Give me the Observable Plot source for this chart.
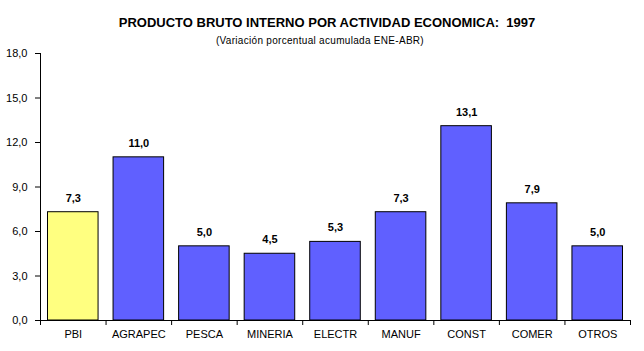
<!DOCTYPE html>
<html>
<head>
<meta charset="utf-8">
<script src="https://cdn.jsdelivr.net/npm/d3@7"></script>
<script src="https://cdn.jsdelivr.net/npm/@observablehq/plot@0.6"></script>
<style>
  html, body { margin: 0; padding: 0; background: #fff; }
  #wrap { position: relative; width: 644px; height: 351px; font-family: "Liberation Sans", Arial, sans-serif; }
  #title { position: absolute; left: 0; width: 654px; top: 15px; text-align: center; font-weight: bold; font-size: 13px; color: #000; }
  #subtitle { position: absolute; left: 0; width: 640px; top: 35px; text-align: center; font-size: 10px; letter-spacing: 0.3px; color: #000; }
  #chart { position: absolute; left: 0; top: 48px; }
</style>
</head>
<body>
<div id="wrap">
  <div id="title">PRODUCTO BRUTO INTERNO POR ACTIVIDAD ECONOMICA:&nbsp; 1997</div>
  <div id="subtitle">(Variación porcentual acumulada ENE-ABR)</div>
  <div id="chart"></div>
</div>
<script>
const categories = ["PBI", "AGRAPEC", "PESCA", "MINERIA", "ELECTR", "MANUF", "CONST", "COMER", "OTROS"];
const values = [7.3, 11.0, 5.0, 4.5, 5.3, 7.3, 13.1, 7.9, 5.0];
const yTicks = [0, 3, 6, 9, 12, 15, 18];

const data = categories.map((c, i) => ({cat: c, i, value: values[i]}));
const fmt = d => d.toFixed(1).replace(".", ",");

const chart = Plot.plot({
  width: 644,
  height: 303,
  marginLeft: 40,
  marginRight: 14,
  marginTop: 5,
  marginBottom: 31,
  style: {fontFamily: "'Liberation Sans', Arial, sans-serif", fontSize: "11px", color: "#000", background: "#fff"},
  x: {type: "linear", domain: [0, categories.length]},
  y: {domain: [0, 18]},
  marks: [
    Plot.rect(data, {
      x1: d => d.i, x2: d => d.i + 1, y1: 0, y2: "value",
      insetLeft: 7.5, insetRight: 7.5,
      fill: d => d.cat === "PBI" ? "#FFFF80" : "#6060FF",
      stroke: "#000", strokeWidth: 1
    }),
    Plot.text(data, {
      x: d => d.i + 0.5, y: "value", text: d => fmt(d.value),
      dy: -14, fontWeight: "bold", fontSize: 11, fill: "#000"
    }),
    Plot.ruleX([0], {stroke: "#000"}),
    Plot.ruleY([0], {stroke: "#000"}),
    Plot.axisY({ticks: yTicks, tickFormat: fmt, tickSize: 5, tickPadding: 8, label: null, fontSize: 11}),
    Plot.axisX({ticks: d3.range(categories.length + 1), tickFormat: () => "", tickSize: 5, label: null}),
    Plot.axisX({ticks: categories.map((c, i) => i + 0.5), tickFormat: (d) => categories[Math.floor(d)], tickSize: 0, tickPadding: 10, label: null, fontSize: 11})
  ]
});
document.getElementById("chart").appendChild(chart);
</script>
</body>
</html>
